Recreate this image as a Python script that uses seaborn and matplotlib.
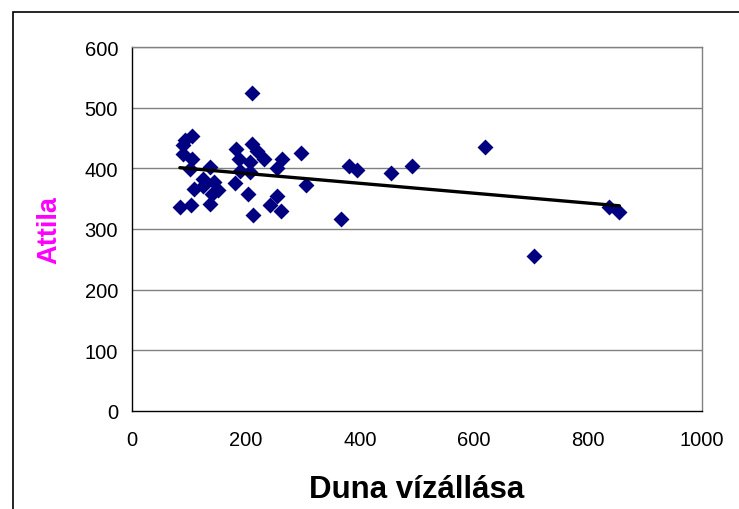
import numpy as np
import pandas as pd
import seaborn as sns
import matplotlib.pyplot as plt
from matplotlib.patches import Rectangle

# Water level of the Danube vs. Attila's values
duna = [211, 93, 106, 90, 89, 105, 102, 137, 182, 187, 210, 219, 232, 207,
        189, 207, 263, 254, 296, 306, 108, 125, 125, 143, 151, 140, 137, 181,
        204, 84, 103, 212, 242, 254, 261, 380, 394, 366, 454, 492, 619, 706,
        836, 855]
attila = [524, 447, 453, 438, 424, 415, 399, 403, 432, 415, 440, 429, 415, 410,
          396, 394, 415, 401, 425, 372, 366, 382, 371, 377, 364, 358, 341, 376,
          358, 336, 339, 323, 339, 355, 329, 404, 398, 316, 392, 404, 435, 256,
          336, 328]

x_ticks = [0, 200, 400, 600, 800, 1000]
y_ticks = [0, 100, 200, 300, 400, 500, 600]

df = pd.DataFrame({"Duna vízállása": duna, "Attila": attila})

sns.set_style("white")
plt.rcParams["font.family"] = ["Liberation Sans", "DejaVu Sans"]

fig = plt.figure(figsize=(7.39, 5.10), dpi=100)
fig.patches.append(Rectangle((13 / 739, -0.1), 1.2, (510 - 13) / 510 + 0.1,
                             transform=fig.transFigure, fill=False,
                             edgecolor="black", linewidth=1.2))
ax = fig.add_axes([132 / 739, 98 / 510, 570 / 739, 364 / 510])

for yv in y_ticks[1:]:
    ax.axhline(yv, color="#808080", linewidth=1.0, zorder=0)

sns.scatterplot(data=df, x="Duna vízállása", y="Attila", ax=ax, marker="D",
                s=66, color="#000080", edgecolor="#000080", linewidth=0,
                zorder=3)

# least-squares trend line over the observed range
slope, intercept = np.polyfit(df["Duna vízállása"], df["Attila"], 1)
xs = np.array([df["Duna vízállása"].min(), df["Duna vízállása"].max()])
sns.lineplot(x=xs, y=slope * xs + intercept, ax=ax, color="black",
             linewidth=2.4, zorder=4)

ax.set_xlim(0, 1000)
ax.set_ylim(0, 600)
ax.set_xticks(x_ticks)
ax.set_yticks(y_ticks)
ax.tick_params(axis="both", labelsize=14.5, direction="out", length=4,
               width=1, colors="black", labelcolor="black")
ax.tick_params(axis="x", pad=10)
ax.tick_params(axis="y", pad=6)

for side in ["top", "right"]:
    ax.spines[side].set_color("#808080")
    ax.spines[side].set_linewidth(1.0)
for side in ["left", "bottom"]:
    ax.spines[side].set_color("black")
    ax.spines[side].set_linewidth(1.0)

ax.set_xlabel("Duna vízállása", fontsize=22.5, fontweight="bold",
              color="black", labelpad=18)
ax.set_ylabel("Attila", fontsize=19.5, fontweight="bold", color="#FF00FF",
              labelpad=16)

fig.savefig("out.png", dpi=100)
